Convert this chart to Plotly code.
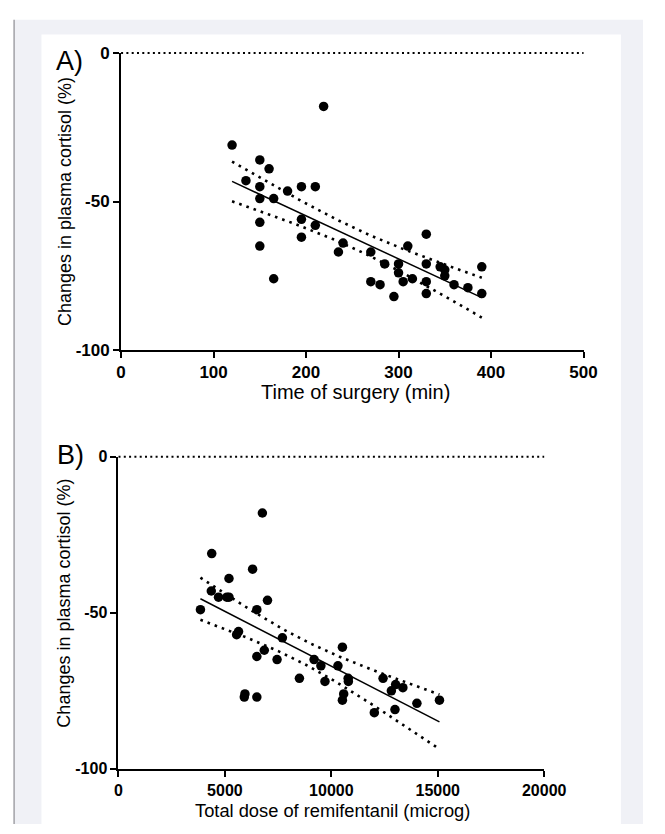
import numpy as np
import plotly.graph_objects as go

# ---------------- data ----------------
time_min = [120, 219, 150, 160, 135, 150, 180, 195, 210, 150, 165, 150, 195, 210, 195,
            150, 165, 240, 235, 270, 285, 300, 310, 330, 330, 300, 270, 280, 295, 305,
            315, 330, 330, 345, 350, 350, 360, 375, 390, 390]
cortisol_a = [-31, -18, -36, -39, -43, -45, -46.5, -45, -45, -49, -49, -57, -56, -58, -62,
              -65, -76, -64, -67, -67, -71, -71, -65, -61, -71, -74, -77, -78, -82, -77,
              -76, -77, -81, -72, -73, -75, -78, -79, -72, -81]

dose_microg = [6760, 4380, 6300, 5190, 4360, 4700, 5090, 5190, 7000, 3850, 6500, 5640,
               5550, 7700, 6850, 6500, 7450, 10520, 9190, 9510, 10310, 8500, 9700, 10790,
               10800, 5940, 5910, 6500, 10580, 10520, 12430, 13020, 13360, 12820, 12020,
               12990, 14020, 15080]
cortisol_b = [-18, -31, -36, -39, -43, -45, -45, -45, -46, -49, -49, -56, -57, -58, -62,
              -64, -65, -61, -65, -67, -67, -71, -72, -71, -72, -76, -77, -77, -76, -78,
              -71, -73, -74, -75, -82, -81, -79, -78]

y_ticks = [-100, -50, 0]
y_tick_text = ["-100", "-50", "0"]
x_ticks_a = [0, 100, 200, 300, 400, 500]
x_tick_text_a = ["0", "100", "200", "300", "400", "500"]
x_ticks_b = [0, 5000, 10000, 15000, 20000]
x_tick_text_b = ["0", "5000", "10000", "15000", "20000"]
T95 = 2.025  # two-sided 95% t critical value (n-2 df)

W, H = 665, 834


def fit_band(x, y, t):
    x = np.asarray(x, float)
    y = np.asarray(y, float)
    n = len(x)
    b, a = np.polyfit(x, y, 1)
    xs = np.linspace(x.min(), x.max(), 120)
    yh = a + b * xs
    s = np.sqrt(np.sum((y - (a + b * x)) ** 2) / (n - 2))
    se = s * np.sqrt(1 / n + (xs - x.mean()) ** 2 / np.sum((x - x.mean()) ** 2))
    return xs, yh, yh - t * se, yh + t * se


def px_x(p):
    return p / W


def px_y(p):
    return 1 - p / H


fig = go.Figure()

for i, (xd, yd) in enumerate([(time_min, cortisol_a), (dose_microg, cortisol_b)]):
    xa = "x" if i == 0 else "x2"
    ya = "y" if i == 0 else "y2"
    xs, yh, lo, hi = fit_band(xd, yd, T95)
    fig.add_trace(go.Scatter(x=xd, y=yd, mode="markers", xaxis=xa, yaxis=ya,
                             marker=dict(size=9.5, color="black"), showlegend=False))
    fig.add_trace(go.Scatter(x=xs, y=yh, mode="lines", xaxis=xa, yaxis=ya,
                             line=dict(color="black", width=1.5), showlegend=False))
    for band in (lo, hi):
        fig.add_trace(go.Scatter(x=xs, y=band, mode="lines", xaxis=xa, yaxis=ya,
                                 line=dict(color="black", width=2.6, dash="2.6px,5px"),
                                 showlegend=False))


def axis_style(size):
    return dict(showline=True, linecolor="black", linewidth=2, ticks="outside",
                ticklen=6, tickwidth=2, tickcolor="black", showgrid=False,
                zeroline=False,
                tickfont=dict(family="Liberation Sans, Arial", size=size,
                              color="black", weight="bold"))


fig.update_layout(
    width=W, height=H, autosize=False,
    margin=dict(l=0, r=0, t=0, b=0),
    paper_bgcolor="white", plot_bgcolor="white",
    xaxis=dict(domain=[px_x(121), px_x(603)], range=[0, 500], tickvals=x_ticks_a,
               ticktext=x_tick_text_a, anchor="y", **axis_style(17)),
    yaxis=dict(domain=[px_y(349), px_y(45)], range=[-100, 0], tickvals=y_ticks,
               ticktext=y_tick_text, anchor="x", **axis_style(17)),
    xaxis2=dict(domain=[px_x(118.3), px_x(562)], range=[0, 20000], tickvals=x_ticks_b,
                ticktext=x_tick_text_b, anchor="y2", **axis_style(16)),
    yaxis2=dict(domain=[px_y(777.5), px_y(458.3)], range=[-100, 0], tickvals=y_ticks,
                ticktext=y_tick_text, anchor="x2", **axis_style(16)),
)

shapes = [
    dict(type="rect", xref="paper", yref="paper", x0=px_x(10), x1=1, y0=0, y1=px_y(11),
         fillcolor="#f0f1f6", line=dict(width=0), layer="below"),
    dict(type="rect", xref="paper", yref="paper", x0=px_x(38), x1=px_x(642), y0=0,
         y1=px_y(26), fillcolor="white", line=dict(width=0), layer="below"),
    dict(type="line", xref="paper", yref="paper", x0=px_x(9.5), x1=px_x(9.5), y0=0,
         y1=px_y(11), line=dict(color="#a0a0a6", width=1.5)),
]
for xr, yr in (("x", "y"), ("x2", "y2")):
    shapes.append(dict(type="line", xref=xr + " domain", yref=yr + " domain",
                       x0=0, x1=1, y0=1, y1=1,
                       line=dict(color="black", width=2, dash="2px,3.3px")))
fig.update_layout(shapes=shapes)

label_font = dict(family="Liberation Sans, Arial", size=27, color="black")
ann = [
    dict(text="A)", x=px_x(51), y=px_y(53), xanchor="left", yanchor="middle",
         font=label_font),
    dict(text="B)", x=px_x(52), y=px_y(456), xanchor="left", yanchor="middle",
         font=label_font),
    dict(text="Changes in plasma cortisol (%)", x=px_x(62), y=px_y(197), textangle=-90,
         xanchor="center", yanchor="middle",
         font=dict(family="Liberation Sans, Arial", size=18, color="black")),
    dict(text="Changes in plasma cortisol (%)", x=px_x(62), y=px_y(608), textangle=-90,
         xanchor="center", yanchor="middle",
         font=dict(family="Liberation Sans, Arial", size=18, color="black")),
    dict(text="Time of surgery (min)", x=px_x(365), y=px_y(392), xanchor="center",
         yanchor="middle",
         font=dict(family="Liberation Sans, Arial", size=20, color="black")),
    dict(text="Total dose of remifentanil (microg)", x=px_x(341), y=px_y(820),
         xanchor="center", yanchor="middle",
         font=dict(family="Liberation Sans, Arial", size=18.3, color="black")),
]
for a in ann:
    a.update(xref="paper", yref="paper", showarrow=False)
fig.update_layout(annotations=ann)

fig.write_html("out.html", config={"displayModeBar": False},
               post_script="document.body.style.margin='0';"
                           "document.body.style.overflow='hidden';")
